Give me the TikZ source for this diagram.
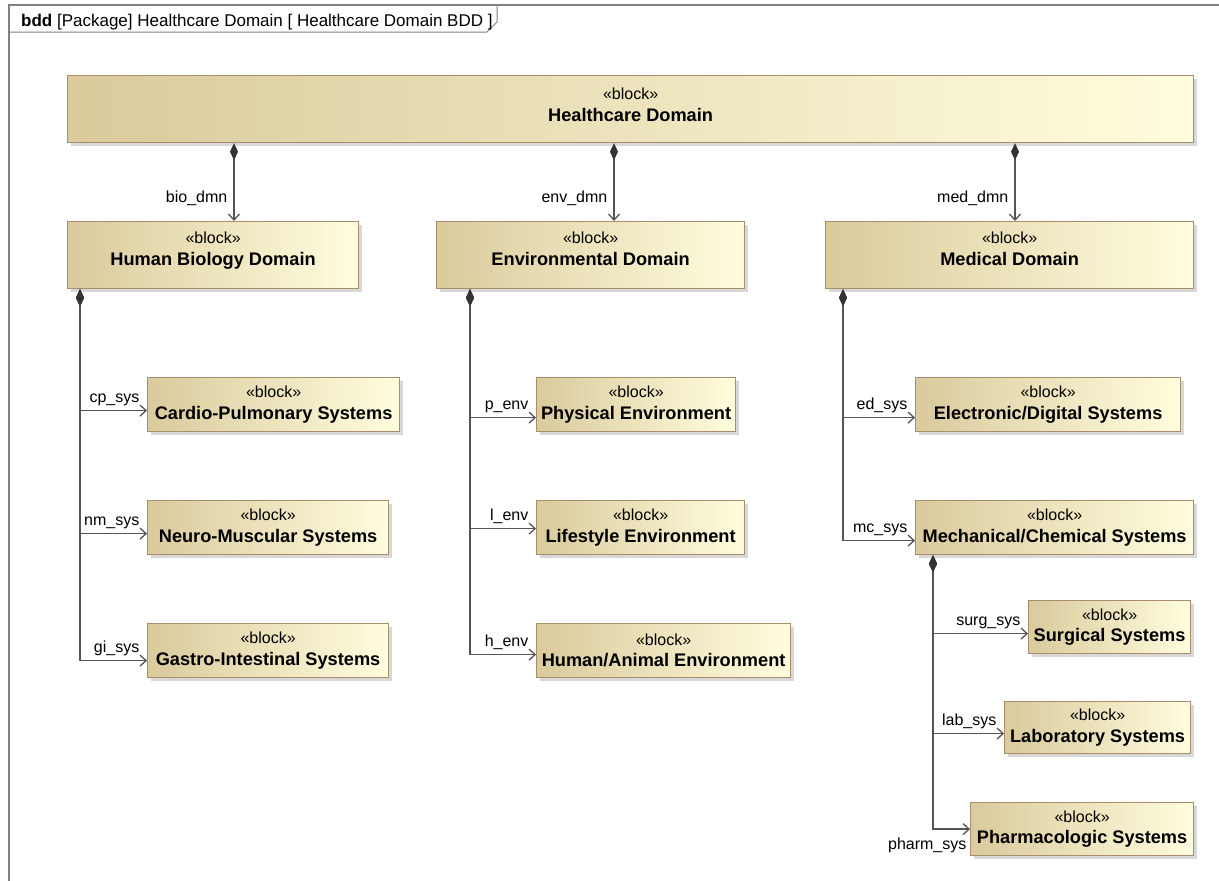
\documentclass[tikz,border=0pt]{standalone}
\usepackage{fontspec}
\setmainfont{Liberation Sans}
\usetikzlibrary{arrows.meta,shadows}

\definecolor{blkL}{RGB}{218,202,156}
\definecolor{blkR}{RGB}{255,253,222}
\definecolor{blkEdge}{RGB}{170,142,106}
\definecolor{wire}{RGB}{85,85,85}
\definecolor{frameC}{RGB}{128,128,128}

\tikzset{
  blk/.style={draw=blkEdge, line width=1.2pt, left color=blkL, right color=blkR,
    inner sep=0pt, align=center, anchor=north west,
    font=\fontsize{16}{21.5}\selectfont,
    drop shadow={shadow xshift=3pt, shadow yshift=-3pt, fill=black!30}},
  bigblk/.style={blk, minimum height=67pt, text depth=13pt},
  smallblk/.style={blk, minimum height=54pt},
  comp/.style={draw=wire, line width=1.3pt,
    {Diamond[length=17pt,width=8pt,fill=black!80,color=black!80]}-{Straight Barb[length=6pt,width=11pt]}},
  role/.style={font=\fontsize{16}{19}\selectfont, inner sep=0pt, anchor=base east},
  rolea/.style={role, xshift=-7pt, yshift=8pt},
}
\newcommand{\blkname}[1]{{\fontsize{18.2}{21.5}\selectfont\bfseries #1}}

\begin{document}
\begin{tikzpicture}[x=1pt,y=-1pt]
\useasboundingbox (0,0) rectangle (1219,881);

% diagram frame and its name tab
\draw[frameC, line width=1.6pt] (9,881) -- (9,5) -- (1219,5);
\draw[frameC, line width=1pt] (9,32) -- (487,32) -- (497,22) -- (497,5);
\node[anchor=base west, font=\fontsize{17}{19}\selectfont, inner sep=0pt] (title) at (21,26)
  {\textbf{bdd} [Package] Healthcare Domain [ Healthcare Domain BDD ]};

% top level
\node[bigblk, minimum width=1126pt, text depth=9pt] (hd) at (67,75) {«block»\\\blkname{Healthcare Domain}};

% domains
\node[bigblk, minimum width=291pt] (hb) at (67,221)  {«block»\\\blkname{Human Biology Domain}};
\node[bigblk, minimum width=308pt] (ed) at (436,221) {«block»\\\blkname{Environmental Domain}};
\node[bigblk, minimum width=368pt] (md) at (825,221) {«block»\\\blkname{Medical Domain}};

% human biology parts
\node[smallblk, minimum width=252pt] (cp) at (147,377) {«block»\\\blkname{Cardio-Pulmonary Systems}};
\node[smallblk, minimum width=241pt] (nm) at (147,500) {«block»\\\blkname{Neuro-Muscular Systems}};
\node[smallblk, minimum width=241pt] (gi) at (147,623) {«block»\\\blkname{Gastro-Intestinal Systems}};

% environment parts
\node[smallblk, minimum width=199pt] (pe) at (536,377) {«block»\\\blkname{Physical Environment}};
\node[smallblk, minimum width=208pt] (le) at (536,500) {«block»\\\blkname{Lifestyle Environment}};
\node[smallblk, minimum width=254pt] (ha) at (536,623) {«block»\\\blkname{Human/Animal Environment}};

% medical parts
\node[smallblk, minimum width=265pt] (eds) at (915,377) {«block»\\\blkname{Electronic/Digital Systems}};
\node[smallblk, minimum width=278pt] (mcs) at (915,500) {«block»\\\blkname{Mechanical/Chemical Systems}};
\node[smallblk, minimum width=162pt, minimum height=53pt] (ss) at (1028,600) {«block»\\\blkname{Surgical Systems}};
\node[smallblk, minimum width=186pt, minimum height=52pt] (ls) at (1004,701) {«block»\\\blkname{Laboratory Systems}};
\node[smallblk, minimum width=223pt, minimum height=53pt] (ps) at (970,802) {«block»\\\blkname{Pharmacologic Systems}};

% composition: top level to domains
\coordinate (bioIn) at ([xshift=167pt]hb.north west);
\coordinate (envIn) at ([xshift=178pt]ed.north west);
\coordinate (medIn) at ([xshift=190pt]md.north west);
\draw[comp] (hd.south -| bioIn) -- (bioIn) node[role, xshift=-6pt, yshift=19pt] {bio\_dmn};
\draw[comp] (hd.south -| envIn) -- (envIn) node[role, xshift=-6pt, yshift=19pt] {env\_dmn};
\draw[comp] (hd.south -| medIn) -- (medIn) node[role, xshift=-6pt, yshift=19pt] {med\_dmn};

% human biology composition
\draw[comp] ([xshift=13pt]hb.south west) |- ([yshift=-6pt]cp.west)  node[rolea] {cp\_sys};
\draw[comp] ([xshift=13pt]hb.south west) |- ([yshift=-6pt]nm.west)  node[rolea] {nm\_sys};
\draw[comp] ([xshift=13pt]hb.south west) |- ([yshift=-10pt]gi.west) node[rolea] {gi\_sys};

% environment composition
\draw[comp] ([xshift=34pt]ed.south west) |- ([yshift=-13pt]pe.west) node[rolea] {p\_env};
\draw[comp] ([xshift=34pt]ed.south west) |- ([yshift=-1pt]le.west)  node[rolea] {l\_env};
\draw[comp] ([xshift=34pt]ed.south west) |- ([yshift=-4pt]ha.west)  node[rolea] {h\_env};

% medical composition
\draw[comp] ([xshift=18pt]md.south west) |- ([yshift=-13pt]eds.west) node[rolea] {ed\_sys};
\draw[comp] ([xshift=18pt]md.south west) |- ([yshift=-13pt]mcs.west) node[rolea] {mc\_sys};

% mechanical/chemical composition
\draw[comp] ([xshift=18pt]mcs.south west) |- ([yshift=-6.5pt]ss.west) node[rolea] {surg\_sys};
\draw[comp] ([xshift=18pt]mcs.south west) |- ([yshift=-6pt]ls.west)   node[rolea] {lab\_sys};
\draw[comp] ([xshift=18pt]mcs.south west) |- (ps.west) node[role, xshift=-3pt, yshift=-20pt] {pharm\_sys};
\end{tikzpicture}
\end{document}
